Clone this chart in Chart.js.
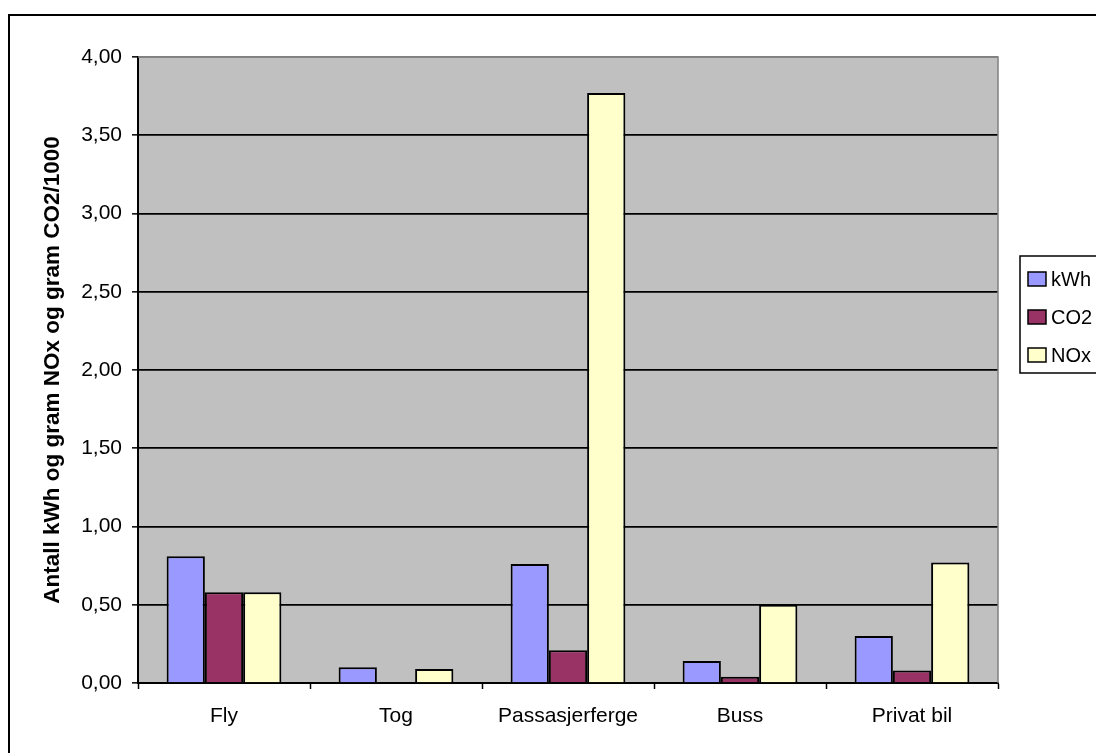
<!DOCTYPE html>
<html>
<head>
<meta charset="utf-8">
<script src="https://cdn.jsdelivr.net/npm/chart.js@4/dist/chart.umd.min.js"></script>
<style>
  html, body { margin: 0; padding: 0; background: #ffffff; }
  #wrap { width: 1096px; height: 753px; }
</style>
</head>
<body>
<div id="wrap"><canvas id="c" width="1096" height="753"></canvas></div>
<script>
// Transportmidler
const categories = ['Fly', 'Tog', 'Passasjerferge', 'Buss', 'Privat bil'];

// Energibruk og utslipp per transportmiddel
const kWh = [0.81, 0.10, 0.76, 0.14, 0.30];
const co2 = [0.58, 0.00, 0.21, 0.04, 0.08];
const nox = [0.58, 0.09, 3.77, 0.50, 0.77];

const seriesNames = ['kWh', 'CO2', 'NOx'];
const yTickLabels = ['0,00', '0,50', '1,00', '1,50', '2,00', '2,50', '3,00', '3,50', '4,00'];
const yAxisTitle = 'Antall kWh og gram NOx og gram CO2/1000';

const FONT = "'Liberation Sans', Arial, sans-serif";

// Hvit bakgrunn, grå plottflate og ramme rundt diagrammet
const framePlugin = {
  id: 'frame',
  beforeDraw(chart) {
    const { ctx, chartArea: a } = chart;
    ctx.save();
    ctx.fillStyle = '#ffffff';
    ctx.fillRect(0, 0, chart.width, chart.height);
    ctx.fillStyle = '#c0c0c0';
    ctx.fillRect(a.left, a.top, a.right - a.left, a.bottom - a.top);
    ctx.restore();
  },
  beforeDatasetsDraw(chart) {
    const { ctx, chartArea: a } = chart;
    ctx.save();
    ctx.strokeStyle = '#808080';
    ctx.lineWidth = 1.5;
    ctx.beginPath();
    ctx.moveTo(a.left, a.top);
    ctx.lineTo(a.right, a.top);
    ctx.lineTo(a.right, a.bottom);
    ctx.stroke();
    ctx.restore();
  },
  afterDraw(chart) {
    const { ctx } = chart;
    ctx.save();
    ctx.strokeStyle = '#000000';
    ctx.lineWidth = 2;
    ctx.strokeRect(9, 15, chart.width + 20, chart.height + 20);
    ctx.restore();
  }
};

// Tegnforklaring til høyre i egen boks
const legendPlugin = {
  id: 'boxLegend',
  afterDraw(chart) {
    const { ctx } = chart;
    const x0 = 1020, y0 = 256, rowH = 38;
    ctx.save();
    ctx.fillStyle = '#ffffff';
    ctx.fillRect(x0, y0, 100, 117);
    ctx.strokeStyle = '#000000';
    ctx.lineWidth = 1.5;
    ctx.strokeRect(x0, y0, 100, 117);
    ctx.font = '20px ' + FONT;
    ctx.textBaseline = 'middle';
    chart.data.datasets.forEach((ds, i) => {
      const cy = y0 + 23 + i * rowH;
      ctx.fillStyle = ds.backgroundColor;
      ctx.fillRect(x0 + 8, cy - 7, 18, 14);
      ctx.strokeStyle = '#000000';
      ctx.lineWidth = 1.5;
      ctx.strokeRect(x0 + 8, cy - 7, 18, 14);
      ctx.fillStyle = '#000000';
      ctx.fillText(ds.label, x0 + 31, cy + 1);
    });
    ctx.restore();
  }
};

const colors = ['#9999ff', '#993366', '#ffffcc'];
const values = [kWh, co2, nox];

new Chart(document.getElementById('c'), {
  type: 'bar',
  data: {
    labels: categories,
    datasets: seriesNames.map((name, i) => ({
      label: name,
      data: values[i],
      backgroundColor: colors[i],
      borderColor: '#000000',
      borderWidth: 2,
      categoryPercentage: 0.667,
      barPercentage: 1.0
    }))
  },
  options: {
    responsive: false,
    animation: false,
    devicePixelRatio: 1,
    layout: { padding: { left: 0, top: 57, right: 98, bottom: 0 } },
    plugins: {
      legend: { display: false },
      tooltip: { enabled: false }
    },
    scales: {
      x: {
        offset: true,
        afterFit(scale) { scale.height = 70; },
        grid: {
          offset: true,
          drawOnChartArea: false,
          drawTicks: true,
          tickLength: 6,
          tickColor: '#000000',
          tickWidth: 1.5
        },
        border: { color: '#000000', width: 2 },
        ticks: {
          color: '#000000',
          padding: 15,
          maxRotation: 0,
          autoSkip: false,
          font: { family: FONT, size: 21 }
        }
      },
      y: {
        min: 0,
        max: 4,
        afterFit(scale) { scale.width = 138; },
        grid: {
          color: (c) => (c.tick && c.tick.value === 4 ? '#808080' : '#000000'),
          lineWidth: 1.7,
          tickColor: '#000000',
          tickLength: 6,
          tickWidth: 1.5
        },
        border: { color: '#000000', width: 2 },
        ticks: {
          stepSize: 0.5,
          color: '#000000',
          padding: 10,
          font: { family: FONT, size: 21 },
          callback: (v, i) => yTickLabels[i]
        },
        title: {
          display: true,
          text: yAxisTitle,
          color: '#000000',
          padding: { top: 39, bottom: 0 },
          font: { family: FONT, size: 22.5, weight: 'bold' }
        }
      }
    }
  },
  plugins: [framePlugin, legendPlugin]
});
</script>
</body>
</html>
